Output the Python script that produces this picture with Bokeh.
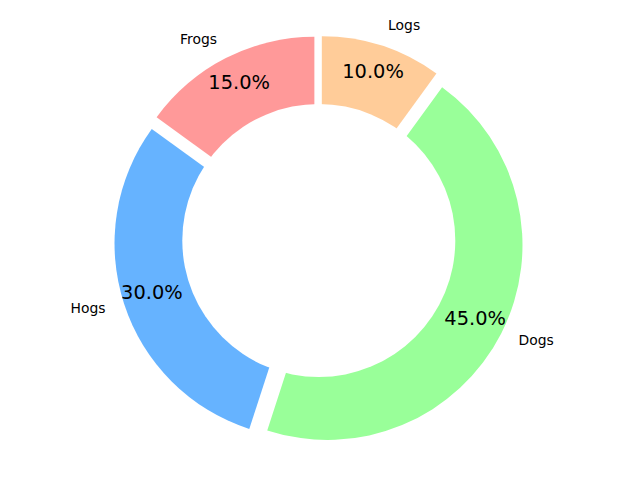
import numpy as np
from bokeh.plotting import figure
from bokeh.models import ColumnDataSource, Range1d
from bokeh.core.properties import value
from bokeh.embed import file_html
from bokeh.resources import INLINE

labels = ["Frogs", "Hogs", "Dogs", "Logs"]
sizes = [15, 30, 45, 10]
colors = ["#ff9999", "#66b3ff", "#99ff99", "#ffcc99"]
explode = [0.05, 0.05, 0.05, 0.05]
start_angle_deg = 90
hole_radius = 0.70
label_distance = 1.1
pct_distance = 0.85

sizes_arr = np.array(sizes, dtype=float)
frac = sizes_arr / sizes_arr.sum()
cum = np.concatenate([[0], np.cumsum(frac)])
start = np.deg2rad(start_angle_deg) + 2 * np.pi * cum[:-1]
end = np.deg2rad(start_angle_deg) + 2 * np.pi * cum[1:]
mid = (start + end) / 2
ex = np.array(explode)
cx = ex * np.cos(mid)
cy = ex * np.sin(mid)

lx = cx + label_distance * np.cos(mid)
ly = cy + label_distance * np.sin(mid)
align = ["left" if v > 0 else "right" for v in lx]
px = cx + pct_distance * np.cos(mid)
py = cy + pct_distance * np.sin(mid)
pct_text = ["%.1f%%" % (f * 100) for f in frac]

src = ColumnDataSource(dict(cx=cx, cy=cy, start=start, end=end, color=colors,
                            lx=lx, ly=ly, label=labels, align=align,
                            px=px, py=py, pct=pct_text))

s = 195.0
W, H = 624, 464
x0 = -318.3 / s
y1 = 240.0 / s
p = figure(width=W, height=H, output_backend="svg", toolbar_location=None,
           x_range=Range1d(x0, x0 + W / s), y_range=Range1d(y1 - H / s, y1),
           x_axis_location=None, y_axis_location=None, min_border=0)
p.grid.visible = False
p.outline_line_color = None
p.background_fill_color = "white"

p.wedge(x="cx", y="cy", radius=1.0, start_angle="start", end_angle="end",
        fill_color="color", line_color=None, source=src)
p.scatter(x=[0], y=[0], size=2 * hole_radius * s, fill_color="white", line_color=None)

p.text(x="lx", y="ly", text="label", text_align="align", text_baseline="middle",
       text_font=value("DejaVu Sans"), text_font_size="13.9px", text_color="black",
       y_offset=-2, source=src)
p.text(x="px", y="py", text="pct", text_align="center", text_baseline="middle",
       text_font=value("DejaVu Sans"), text_font_size="19.4px", text_color="black",
       y_offset=-2, source=src)

open("out.html", "w").write(file_html(p, INLINE))
